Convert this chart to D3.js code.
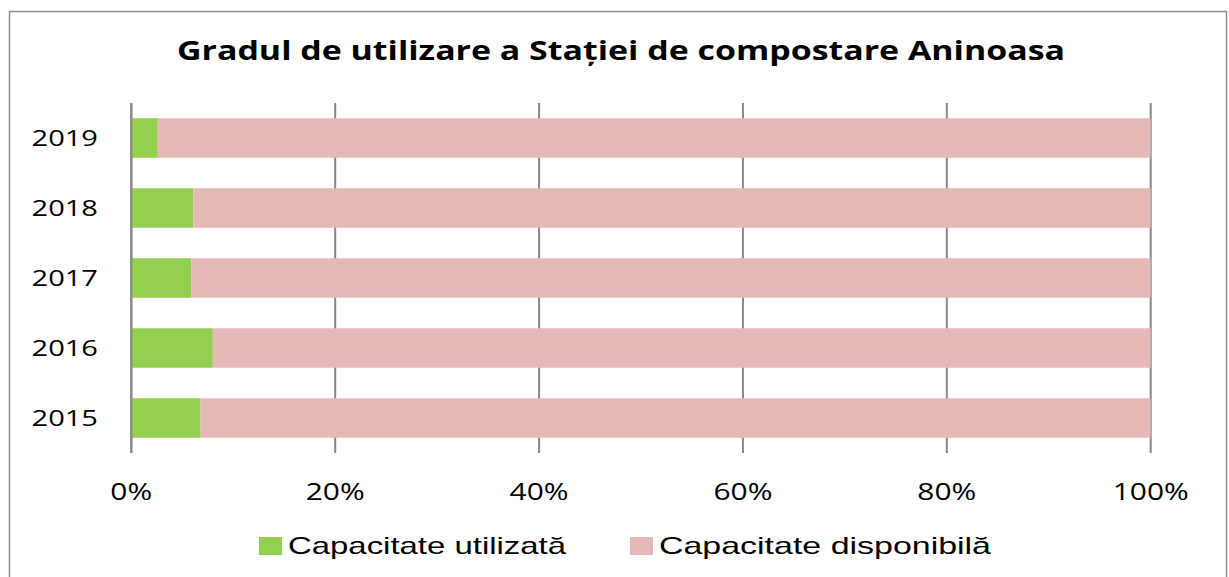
<!DOCTYPE html>
<html>
<head>
<meta charset="utf-8">
<script src="https://cdn.jsdelivr.net/npm/d3@7"></script>
<style>
  body { margin: 0; background: #fff; }
</style>
</head>
<body>
<div id="chart"></div>
<script>
var years = ["2015", "2016", "2017", "2018", "2019"];
var used = [6.8, 8.0, 5.9, 6.1, 2.6];          // % capacitate utilizata
var available = used.map(function (v) { return 100 - v; });
var seriesNames = ["Capacitate utilizată", "Capacitate disponibilă"];
var seriesColours = ["#92d050", "#e6b9b8"];
var xTicks = [0, 20, 40, 60, 80, 100];
var chartTitle = "Gradul de utilizare a Stației de compostare Aninoasa";

var width = 1229, height = 577;
var plot = { left: 131.3, right: 1150.7, top: 103, bottom: 453 };

var svg = d3.select("#chart")
    .append("svg")
    .attr("width", width)
    .attr("height", height);

// outer chart border
svg.append("rect")
    .attr("x", 9.5).attr("y", 11.5)
    .attr("width", 1217).attr("height", 600)
    .attr("fill", "none")
    .attr("stroke", "#8c8c8c")
    .attr("stroke-width", 1.5);

// stretch text horizontally (the reference is a little wide)
function stretch(sel, factor) {
    sel.each(function () {
        var w = this.getComputedTextLength();
        d3.select(this)
            .attr("textLength", w * factor)
            .attr("lengthAdjust", "spacingAndGlyphs");
    });
}

var x = d3.scaleLinear()
    .domain([0, 100])
    .range([plot.left, plot.right]);

var y = d3.scaleBand()
    .domain(years.slice().reverse())
    .range([plot.top, plot.bottom])
    .paddingInner(0.436)
    .paddingOuter(0.218);

// vertical gridlines
svg.append("g")
    .selectAll("line")
    .data(xTicks)
    .enter()
    .append("line")
    .attr("x1", function (d) { return x(d); })
    .attr("x2", function (d) { return x(d); })
    .attr("y1", plot.top)
    .attr("y2", plot.bottom)
    .attr("stroke", "#878787")
    .attr("stroke-width", 2);

// stacked bars
var rows = years.map(function (yr, i) {
    return { year: yr, used: used[i], available: available[i] };
});
var stack = d3.stack().keys(["used", "available"])(rows);

svg.append("g")
    .selectAll("g")
    .data(stack)
    .enter()
    .append("g")
    .attr("fill", function (d, i) { return seriesColours[i]; })
    .selectAll("rect")
    .data(function (d) { return d; })
    .enter()
    .append("rect")
    .attr("x", function (d) { return x(d[0]); })
    .attr("y", function (d) { return y(d.data.year); })
    .attr("width", function (d) { return x(d[1]) - x(d[0]); })
    .attr("height", y.bandwidth());

// 0% axis line on top
svg.append("line")
    .attr("x1", x(0)).attr("x2", x(0))
    .attr("y1", plot.top).attr("y2", plot.bottom)
    .attr("stroke", "#878787")
    .attr("stroke-width", 2);

// y labels
var yLabels = svg.append("g")
    .selectAll("text")
    .data(years)
    .enter()
    .append("text")
    .attr("x", 98)
    .attr("y", function (d) { return y(d) + y.bandwidth() / 2 + 8; })
    .attr("text-anchor", "end")
    .style("font-family", "'Open Sans', sans-serif")
    .style("font-size", "22px")
    .style("fill", "#000")
    .text(function (d) { return d; });
stretch(yLabels, 1.32);

// x labels
var xLabels = svg.append("g")
    .selectAll("text")
    .data(xTicks)
    .enter()
    .append("text")
    .attr("x", function (d) { return x(d); })
    .attr("y", 500)
    .attr("text-anchor", "middle")
    .style("font-family", "'Open Sans', sans-serif")
    .style("font-size", "23px")
    .style("fill", "#000")
    .text(function (d) { return d + "%"; });
stretch(xLabels, 1.3);

// title
svg.append("text")
    .attr("x", 621)
    .attr("y", 59.5)
    .attr("text-anchor", "middle")
    .style("font-family", "'Open Sans', sans-serif")
    .style("font-weight", "bold")
    .style("font-size", "27px")
    .attr("textLength", 888)
    .attr("lengthAdjust", "spacingAndGlyphs")
    .text(chartTitle);

// legend
var legendX = [259, 630];
var legendW = [278, 332];
var legend = svg.append("g")
    .selectAll("g")
    .data(seriesNames)
    .enter()
    .append("g")
    .attr("transform", function (d, i) { return "translate(" + legendX[i] + ",537)"; });

legend.append("rect")
    .attr("width", 23)
    .attr("height", 18)
    .attr("fill", function (d, i) { return seriesColours[i]; });

legend.append("text")
    .attr("x", 29)
    .attr("y", 16.5)
    .style("font-family", "'Liberation Sans', Arial, sans-serif")
    .style("font-size", "24px")
    .style("fill", "#000")
    .attr("textLength", function (d, i) { return legendW[i]; })
    .attr("lengthAdjust", "spacingAndGlyphs")
    .text(function (d) { return d; });
</script>
</body>
</html>
